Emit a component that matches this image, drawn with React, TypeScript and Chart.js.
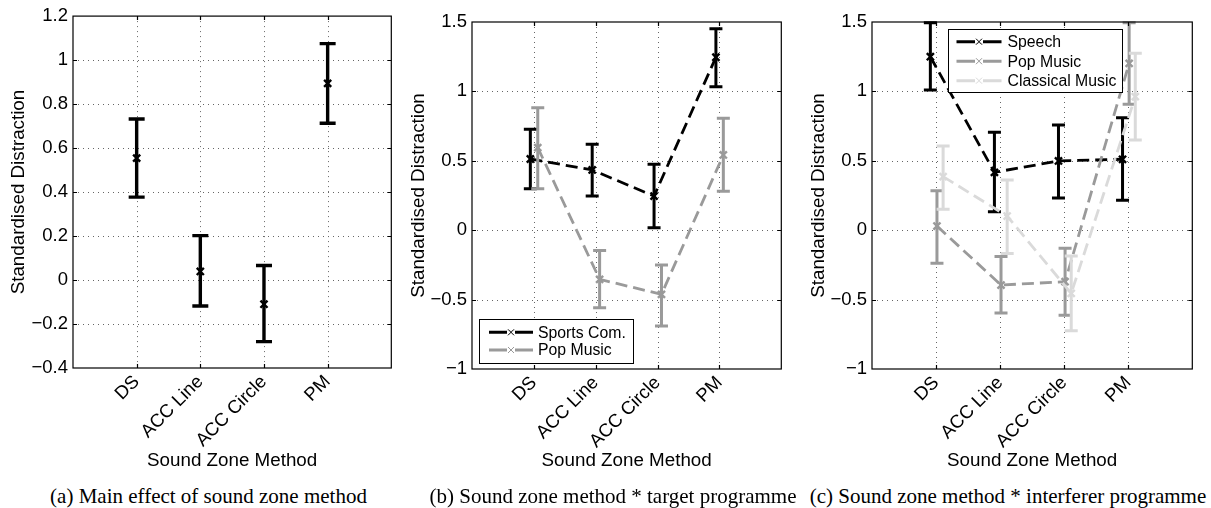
import React, { useEffect, useRef } from 'react';
import { Chart, registerables } from 'chart.js';

Chart.register(...registerables);

// ---------- data ----------
const categories = ['DS', 'ACC Line', 'ACC Circle', 'PM'];

// (a) main effect of sound zone method
const mainMean = [0.554, 0.039, -0.11, 0.894];
const mainLow = [0.377, -0.118, -0.28, 0.713];
const mainHigh = [0.732, 0.202, 0.066, 1.075];

// (b) sound zone method * target programme
const sportsMean = [0.513, 0.434, 0.246, 1.246];
const sportsLow = [0.299, 0.246, 0.018, 1.034];
const sportsHigh = [0.727, 0.619, 0.475, 1.452];
const popTargetMean = [0.595, -0.354, -0.462, 0.542];
const popTargetLow = [0.299, -0.558, -0.69, 0.28];
const popTargetHigh = [0.883, -0.147, -0.251, 0.806];

// (c) sound zone method * interferer programme
const speechMean = [1.25, 0.417, 0.499, 0.511];
const speechLow = [1.01, 0.133, 0.232, 0.215];
const speechHigh = [1.495, 0.705, 0.758, 0.811];
const popInterfMean = [0.03, -0.395, -0.371, 1.202];
const popInterfLow = [-0.239, -0.597, -0.613, 0.907];
const popInterfHigh = [0.285, -0.19, -0.13, 1.495];
const classicalMean = [0.386, 0.102, -0.455, 0.962];
const classicalLow = [0.151, -0.167, -0.724, 0.65];
const classicalHigh = [0.607, 0.362, -0.186, 1.274];

const xTitle = 'Sound Zone Method';
const yTitle = 'Standardised Distraction';
const captions = [
  '(a) Main effect of sound zone method',
  '(b) Sound zone method * target programme',
  '(c) Sound zone method * interferer programme',
];

// ---------- styles ----------
const BLACK = '#000000';
const GRAY = '#9a9a9a';
const LIGHT = '#dadada';
const SANS = "'Liberation Sans', Arial, Helvetica, sans-serif";
const SERIF = "'Liberation Serif', 'Times New Roman', serif";
const TICK_SIZE = 18.5;
const TITLE_SIZE = 18.8;

type Series = {
  label: string;
  mean: number[];
  low: number[];
  high: number[];
  color: string;
  dodge: number;
};

type LegendCfg = {
  anchor: 'top' | 'bottom';
  dx: number;
  dy: number;
  w: number;
  h: number;
  rowTop: number;
  rowGap: number;
  lineX0: number;
  lineX1: number;
  textX: number;
};

type Panel = {
  left: number;
  width: number;
  height: number;
  padTop: number;
  padRight: number;
  yAxisWidth: number;
  xAxisHeight: number;
  yMin: number;
  yMax: number;
  yStep: number;
  showLine: boolean;
  capWidth: number;
  barWidth: number;
  series: Series[];
  legend: LegendCfg | null;
  caption: string;
  captionCenter: number;
};

const panels: Panel[] = [
  {
    left: 0, width: 410, height: 475, padTop: 15, padRight: 7, yAxisWidth: 73, xAxisHeight: 107,
    yMin: -0.4, yMax: 1.2, yStep: 0.2, showLine: false, capWidth: 16, barWidth: 3.4,
    series: [{ label: 'Main', mean: mainMean, low: mainLow, high: mainHigh, color: BLACK, dodge: 0 }],
    legend: null, caption: captions[0], captionCenter: 208.5,
  },
  {
    left: 400, width: 400, height: 475, padTop: 22, padRight: 3, yAxisWidth: 72, xAxisHeight: 106,
    yMin: -1, yMax: 1.5, yStep: 0.5, showLine: true, capWidth: 13, barWidth: 3,
    series: [
      { label: 'Sports Com.', mean: sportsMean, low: sportsLow, high: sportsHigh, color: BLACK, dodge: -0.057 },
      { label: 'Pop Music', mean: popTargetMean, low: popTargetLow, high: popTargetHigh, color: GRAY, dodge: 0.063 },
    ],
    legend: { anchor: 'bottom', dx: 7, dy: 6, w: 154, h: 44, rowTop: 13.3, rowGap: 17.7, lineX0: 10, lineX1: 54, textX: 59 },
    caption: captions[1], captionCenter: 613,
  },
  {
    left: 800, width: 411, height: 475, padTop: 22, padRight: 14, yAxisWidth: 72, xAxisHeight: 106,
    yMin: -1, yMax: 1.5, yStep: 0.5, showLine: true, capWidth: 13, barWidth: 3,
    series: [
      { label: 'Speech', mean: speechMean, low: speechLow, high: speechHigh, color: BLACK, dodge: -0.089 },
      { label: 'Pop Music', mean: popInterfMean, low: popInterfLow, high: popInterfHigh, color: GRAY, dodge: 0.014 },
      { label: 'Classical Music', mean: classicalMean, low: classicalLow, high: classicalHigh, color: LIGHT, dodge: 0.11 },
    ],
    legend: { anchor: 'top', dx: 76, dy: 7, w: 174, h: 63, rowTop: 12.7, rowGap: 19.5, lineX0: 8.5, lineX1: 53.5, textX: 59.5 },
    caption: captions[2], captionCenter: 1008,
  },
];

function fmtY(v: number): string {
  const r = Math.round(v * 1000) / 1000;
  if (r === 0) return '0';
  return r < 0 ? '\u2212' + String(-r) : String(r);
}

function makePlugin(p: Panel) {
  return {
    id: 'matlabStyle',
    beforeDatasetsDraw(chart: any) {
      const { ctx, chartArea: a, scales } = chart;
      const x = scales.x;
      const y = scales.y;
      ctx.save();
      ctx.strokeStyle = '#666666';
      ctx.lineWidth = 1;
      ctx.setLineDash([1, 4]);
      x.ticks.forEach((t: any) => {
        if (t.value <= x.min || t.value >= x.max) return;
        const px = Math.round(x.getPixelForValue(t.value)) + 0.5;
        ctx.beginPath();
        ctx.moveTo(px, a.top);
        ctx.lineTo(px, a.bottom);
        ctx.stroke();
      });
      y.ticks.forEach((t: any) => {
        if (t.value <= y.min + 1e-9 || t.value >= y.max - 1e-9) return;
        const py = Math.round(y.getPixelForValue(t.value)) + 0.5;
        ctx.beginPath();
        ctx.moveTo(a.left, py);
        ctx.lineTo(a.right, py);
        ctx.stroke();
      });
      ctx.restore();
    },
    afterDatasetDraw(chart: any, args: any) {
      const ds: any = chart.data.datasets[args.index];
      const { ctx, scales } = chart;
      const x = scales.x;
      const y = scales.y;
      const hw = p.capWidth / 2;
      ctx.save();
      ctx.strokeStyle = ds.borderColor;
      ctx.lineWidth = p.barWidth;
      ctx.lineCap = 'butt';
      ctx.setLineDash([]);
      ds.data.forEach((pt: any, j: number) => {
        const px = x.getPixelForValue(pt.x);
        const yl = y.getPixelForValue(ds.errLow[j]);
        const yh = y.getPixelForValue(ds.errHigh[j]);
        ctx.beginPath();
        ctx.moveTo(px, yl);
        ctx.lineTo(px, yh);
        ctx.moveTo(px - hw, yl);
        ctx.lineTo(px + hw, yl);
        ctx.moveTo(px - hw, yh);
        ctx.lineTo(px + hw, yh);
        ctx.stroke();
      });
      ctx.restore();
    },
    afterDatasetsDraw(chart: any) {
      const { ctx, chartArea: a, scales } = chart;
      const x = scales.x;
      const y = scales.y;
      ctx.save();
      ctx.strokeStyle = '#000000';
      ctx.lineWidth = 1.2;
      ctx.setLineDash([]);
      ctx.strokeRect(a.left, a.top, a.right - a.left, a.bottom - a.top);
      const tl = 4;
      ctx.beginPath();
      x.ticks.forEach((t: any) => {
        if (t.value <= x.min || t.value >= x.max) return;
        const px = Math.round(x.getPixelForValue(t.value)) + 0.5;
        ctx.moveTo(px, a.bottom);
        ctx.lineTo(px, a.bottom - tl);
        ctx.moveTo(px, a.top);
        ctx.lineTo(px, a.top + tl);
      });
      y.ticks.forEach((t: any) => {
        if (t.value <= y.min + 1e-9 || t.value >= y.max - 1e-9) return;
        const py = Math.round(y.getPixelForValue(t.value)) + 0.5;
        ctx.moveTo(a.left, py);
        ctx.lineTo(a.left + tl, py);
        ctx.moveTo(a.right, py);
        ctx.lineTo(a.right - tl, py);
      });
      ctx.stroke();
      ctx.restore();
    },
    afterDraw(chart: any) {
      const lg = p.legend;
      if (!lg) return;
      const { ctx, chartArea: a } = chart;
      const bx = a.left + lg.dx;
      const by = lg.anchor === 'top' ? a.top + lg.dy : a.bottom - lg.dy - lg.h;
      ctx.save();
      ctx.fillStyle = '#ffffff';
      ctx.fillRect(bx, by, lg.w, lg.h);
      ctx.strokeStyle = '#000000';
      ctx.lineWidth = 1;
      ctx.strokeRect(bx + 0.5, by + 0.5, lg.w, lg.h);
      ctx.font = `15.8px ${SANS}`;
      ctx.textBaseline = 'middle';
      ctx.textAlign = 'left';
      p.series.forEach((s, i) => {
        const ry = by + lg.rowTop + i * lg.rowGap;
        ctx.strokeStyle = s.color;
        ctx.lineWidth = 3;
        ctx.beginPath();
        ctx.moveTo(bx + lg.lineX0, ry);
        ctx.lineTo(bx + lg.lineX1, ry);
        ctx.stroke();
        const mx = bx + (lg.lineX0 + lg.lineX1) / 2;
        ctx.fillStyle = '#ffffff';
        ctx.fillRect(mx - 4, ry - 2, 8, 4);
        ctx.lineWidth = 1;
        ctx.beginPath();
        ctx.moveTo(mx - 3, ry - 3);
        ctx.lineTo(mx + 3, ry + 3);
        ctx.moveTo(mx - 3, ry + 3);
        ctx.lineTo(mx + 3, ry - 3);
        ctx.stroke();
        ctx.fillStyle = '#000000';
        ctx.fillText(s.label, bx + lg.textX, ry + 1);
      });
      ctx.restore();
    },
  };
}

function buildChart(canvas: HTMLCanvasElement, p: Panel) {
  const n = p.series.length;
  const datasets = p.series.map((s, i) => ({
    label: s.label,
    data: s.mean.map((m, j) => ({ x: j + 1 + s.dodge, y: m })),
    errLow: s.low,
    errHigh: s.high,
    borderColor: s.color,
    backgroundColor: s.color,
    borderWidth: 2.8,
    borderDash: [12, 6],
    showLine: p.showLine,
    tension: 0,
    pointStyle: 'crossRot',
    pointRadius: 5,
    pointHoverRadius: 5,
    pointBorderWidth: 2.4,
    pointBorderColor: s.color,
    order: n - i,
  }));
  return new Chart(canvas, {
    type: 'line',
    data: { datasets } as any,
    plugins: [makePlugin(p) as any],
    options: {
      animation: false,
      responsive: false,
      events: [],
      layout: { padding: { top: p.padTop, right: p.padRight, left: 0, bottom: 0 } },
      plugins: { legend: { display: false }, tooltip: { enabled: false } },
      scales: {
        x: {
          type: 'linear',
          min: 0,
          max: 5,
          grid: { display: false, drawTicks: false },
          border: { display: false },
          ticks: {
            stepSize: 1,
            autoSkip: false,
            minRotation: 45,
            maxRotation: 45,
            padding: 3,
            color: '#000000',
            font: { size: TICK_SIZE, family: SANS },
            callback: (v: any) => categories[Math.round(Number(v)) - 1] ?? '',
          },
          title: {
            display: true,
            text: xTitle,
            color: '#000000',
            font: { size: TITLE_SIZE, family: SANS },
            padding: { top: 0, bottom: 3 },
          },
          afterFit: (s: any) => {
            s.height = p.xAxisHeight;
          },
        },
        y: {
          type: 'linear',
          min: p.yMin,
          max: p.yMax,
          grid: { display: false, drawTicks: false },
          border: { display: false },
          ticks: {
            stepSize: p.yStep,
            padding: 5,
            color: '#000000',
            font: { size: TICK_SIZE, family: SANS },
            callback: (v: any) => fmtY(Number(v)),
          },
          title: {
            display: true,
            text: yTitle,
            color: '#000000',
            font: { size: TITLE_SIZE, family: SANS },
            padding: { top: 7.5, bottom: 0 },
          },
          afterFit: (s: any) => {
            s.width = p.yAxisWidth;
          },
        },
      },
    } as any,
  });
}

function ChartPanel({ p }: { p: Panel }) {
  const ref = useRef<HTMLCanvasElement | null>(null);
  useEffect(() => {
    if (!ref.current) return;
    const chart = buildChart(ref.current, p);
    return () => chart.destroy();
  }, [p]);
  return (
    <>
      <canvas
        ref={ref}
        width={p.width}
        height={p.height}
        style={{ position: 'absolute', left: p.left, top: 0, width: p.width, height: p.height }}
      />
      <div
        style={{
          position: 'absolute',
          left: p.captionCenter,
          top: 484,
          transform: 'translateX(-50%)',
          whiteSpace: 'nowrap',
          fontFamily: SERIF,
          fontSize: 21,
          lineHeight: '24px',
          color: '#000000',
        }}
      >
        {p.caption}
      </div>
    </>
  );
}

export default function App() {
  return (
    <div
      style={{
        position: 'absolute',
        left: 0,
        top: 0,
        width: 1211,
        height: 508,
        background: '#ffffff',
        overflow: 'hidden',
      }}
    >
      {panels.map((p, i) => (
        <ChartPanel key={i} p={p} />
      ))}
    </div>
  );
}
